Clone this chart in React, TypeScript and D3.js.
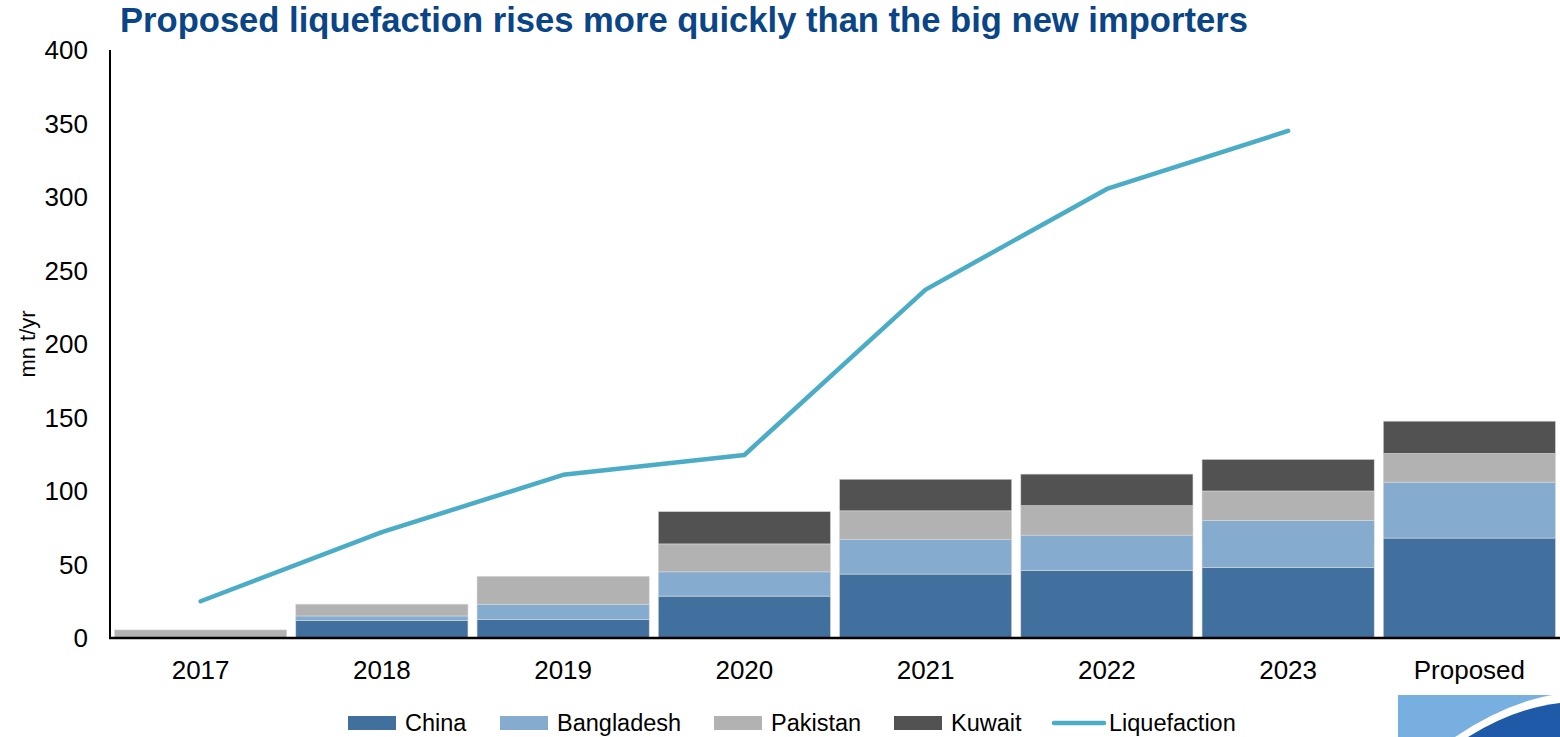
import React from 'react';
import * as d3 from 'd3';

const categories = ['2017', '2018', '2019', '2020', '2021', '2022', '2023', 'Proposed'];
const china = [0, 12, 12.5, 28.5, 43.5, 46, 48, 68];
const bangladesh = [0, 3, 10.5, 16.5, 23.5, 24, 32, 38];
const pakistan = [5.5, 8, 19, 19, 19.5, 20, 20, 19.5];
const kuwait = [0, 0, 0, 22, 21.5, 21.5, 21.5, 22];
const liquefaction = [25, 72, 111, 124.5, 237, 305.5, 345, null];
const yTicks = [0, 50, 100, 150, 200, 250, 300, 350, 400];

const seriesNames = ['China', 'Bangladesh', 'Pakistan', 'Kuwait'];
const seriesColors = ['#41709f', '#85acce', '#b2b2b2', '#525252'];
const lineColor = '#4bacc6';

const width = 1560;
const height = 737;
const margin = { top: 50, right: 0, bottom: 99, left: 110 };

const App = () => {
  const x = d3.scaleBand()
    .domain(categories)
    .range([margin.left, width - margin.right])
    .paddingInner(0.05)
    .paddingOuter(0.025);

  const y = d3.scaleLinear()
    .domain([0, 400])
    .range([height - margin.bottom, margin.top]);

  // table for stacking
  const table = categories.map((c, i) => ({
    cat: c,
    China: china[i],
    Bangladesh: bangladesh[i],
    Pakistan: pakistan[i],
    Kuwait: kuwait[i],
  }));
  const stacked = d3.stack().keys(seriesNames)(table as any);

  const linePoints = categories
    .map((c, i) => ({ c, v: liquefaction[i] }))
    .filter(d => d.v !== null) as { c: string; v: number }[];
  const line = d3.line<{ c: string; v: number }>()
    .x(d => (x(d.c) as number) + x.bandwidth() / 2)
    .y(d => y(d.v));

  const font = '"Liberation Sans", Arial, sans-serif';
  const legendItems = [
    { name: 'China', x: 348, color: seriesColors[0], kind: 'rect' },
    { name: 'Bangladesh', x: 500, color: seriesColors[1], kind: 'rect' },
    { name: 'Pakistan', x: 714, color: seriesColors[2], kind: 'rect' },
    { name: 'Kuwait', x: 894, color: seriesColors[3], kind: 'rect' },
    { name: 'Liquefaction', x: 1052, color: lineColor, kind: 'line' },
  ];

  return (
    <svg width={width} height={height}
      style={{ position: 'absolute', left: 0, top: 0, background: '#fff' }}
      fontFamily={font}>
      <text x={120} y={32} fontSize={34.6} fontWeight="bold" fill="#0a4587">
        Proposed liquefaction rises more quickly than the big new importers
      </text>

      {/* y axis labels */}
      {yTicks.map(t => (
        <text key={t} x={88} y={y(t)} dy="0.35em" textAnchor="end" fontSize={26} fill="#000">
          {t}
        </text>
      ))}
      <text transform={`translate(27, ${(y(0) + y(400)) / 2}) rotate(-90)`}
        dy="0.35em" textAnchor="middle" fontSize={22} fill="#000">mn t/yr</text>

      {/* bars */}
      {stacked.map((s, si) => (
        <g key={s.key} fill={seriesColors[si]}>
          {s.map((d, i) => (d[1] - d[0] > 0 ? (
            <rect key={i}
              x={x(categories[i])}
              y={y(d[1])}
              width={x.bandwidth()}
              height={y(d[0]) - y(d[1])}
              stroke="#d8d8d8" strokeWidth={0.6} />
          ) : null))}
        </g>
      ))}

      {/* axes lines */}
      <line x1={margin.left} x2={margin.left} y1={y(400)} y2={y(0)} stroke="#000" strokeWidth={2} />
      <line x1={margin.left - 1} x2={width} y1={y(0)} y2={y(0)} stroke="#000" strokeWidth={2.5} />

      {categories.map(c => (
        <text key={c} x={(x(c) as number) + x.bandwidth() / 2} y={670} dy="0.35em"
          textAnchor="middle" fontSize={26} fill="#000">{c}</text>
      ))}

      {/* liquefaction line */}
      <path d={line(linePoints) || ''} fill="none" stroke={lineColor} strokeWidth={4.5}
        strokeLinecap="round" strokeLinejoin="round" />

      {/* legend */}
      {legendItems.map(it => (
        <g key={it.name}>
          {it.kind === 'rect'
            ? <rect x={it.x} y={716} width={48} height={14} fill={it.color} />
            : <line x1={it.x + 2} x2={it.x + 52} y1={723} y2={723} stroke={it.color}
                strokeWidth={4.5} strokeLinecap="round" />}
          <text x={it.x + 57} y={723} dy="0.35em" fontSize={23.5} fill="#000">{it.name}</text>
        </g>
      ))}

      {/* logo fragment */}
      <rect x={1398} y={695} width={162} height={42} fill="#77b0e0" />
      <path d="M1455,737 Q1510,700 1560,694 L1560,737 Z" fill="#fff" />
      <path d="M1468,737 Q1515,708 1560,703 L1560,737 Z" fill="#1f5aa8" />
    </svg>
  );
};

export default App;
